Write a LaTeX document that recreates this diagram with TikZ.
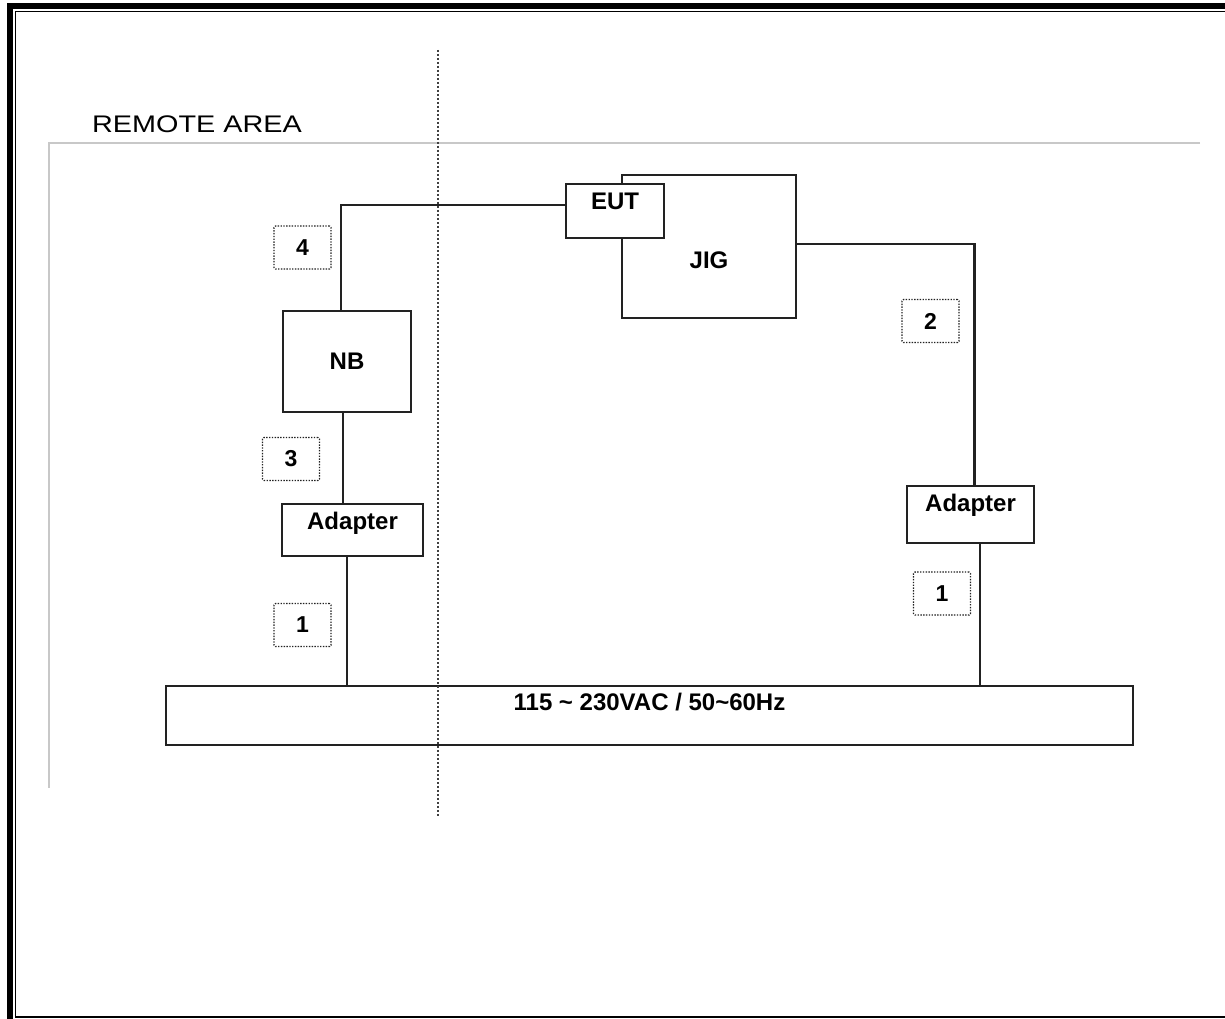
\documentclass[tikz,border=0pt]{standalone}
\usepackage{fontspec}
\setmainfont{Liberation Sans}
\newfontfamily\areafont[FakeStretch=1.2]{Liberation Sans}
\usetikzlibrary{positioning}
\definecolor{Ink}  {HTML}{222222}
\definecolor{Frame}{HTML}{C8C8C8}
\tikzset{
  box/.style={draw=Ink, line width=2.4pt, fill=white, inner sep=0pt},
  tag/.style={draw=Ink, line width=1.4pt, dash pattern=on 1.4pt off 1.4pt,
              rounded corners=1.5pt, minimum width=57pt, minimum height=43pt,
              inner sep=0pt, font=\fontsize{23}{23}\selectfont\bfseries},
  lbl/.style={inner sep=0pt, font=\fontsize{24}{24}\selectfont\bfseries},
  wire/.style={draw=Ink, line width=2.4pt}
}
\begin{document}
\begin{tikzpicture}[x=1pt,y=-1pt]
  \useasboundingbox (0,0) rectangle (1225,1019);
  % page border
  \draw[line width=6pt] (10,1019) -- (10,6) -- (1225,6);
  \draw[line width=1.5pt] (1225,11.5) -- (15.5,11.5) -- (15.5,1017) -- (1225,1017);
  % remote area frame
  \draw[Frame, line width=2pt] (1200,143) -- (49,143) -- (49,788);
  \node[anchor=base west, inner sep=0pt, font=\fontsize{24}{24}\selectfont\areafont]
    (area) at (92,133) {REMOTE AREA};

  % boxes
  \node[box, minimum width=174pt, minimum height=143pt] (jig) at (709,246.5) {};
  \node[box, minimum width=98pt,  minimum height=54pt]  (eut) at (615,211)   {};
  \node[box, minimum width=128pt, minimum height=101pt] (nb)  at (347,361.5) {};
  \node[box, minimum width=141pt, minimum height=52pt]  (adL) at (352.5,530) {};
  \node[box, minimum width=127pt, minimum height=57pt]  (adR) at (970.5,514.5) {};
  \node[box, minimum width=967pt, minimum height=59pt]  (pwr) at (649.5,715.5) {};

  \node[lbl, below=10pt of eut.north] (eutT) {EUT};
  \node[lbl, below=5pt of jig.center] (jigT) {JIG};
  \node[lbl] (nbT) at (nb) {NB};
  \node[lbl, below=9pt of adL.north] (adLT) {Adapter};
  \node[lbl, below=9pt of adR.north] (adRT) {Adapter};
  \node[lbl, below=8pt of pwr.north] (pwrT) {115 \textasciitilde{} 230VAC / 50\textasciitilde60Hz};

  % cable numbers
  \node[tag] (t4)  at (302.5,247.5) {4};
  \node[tag] (t3)  at (291,459)     {3};
  \node[tag] (t1a) at (302.5,625)   {1};
  \node[tag] (t2)  at (930.5,321)   {2};
  \node[tag] (t1b) at (942,593.5)   {1};

  % cables
  \draw[wire] ([yshift=6pt]eut.west) -| ([xshift=-6pt]nb.north);
  \draw[wire] ([xshift=-4pt]nb.south) -- ([xshift=-4pt]nb.south |- adL.north);
  \draw[wire] ([xshift=-5.5pt]adL.south) -- ([xshift=-5.5pt]adL.south |- pwr.north);
  \draw[wire] ([yshift=2.5pt]jig.east) -| ([xshift=4pt]adR.north);
  \draw[wire] ([xshift=9.5pt]adR.south) -- ([xshift=9.5pt]adR.south |- pwr.north);

  % area boundary
  \draw[black!75, line width=2pt, dash pattern=on 2pt off 2pt] (438,50) -- (438,816);
\end{tikzpicture}
\end{document}
